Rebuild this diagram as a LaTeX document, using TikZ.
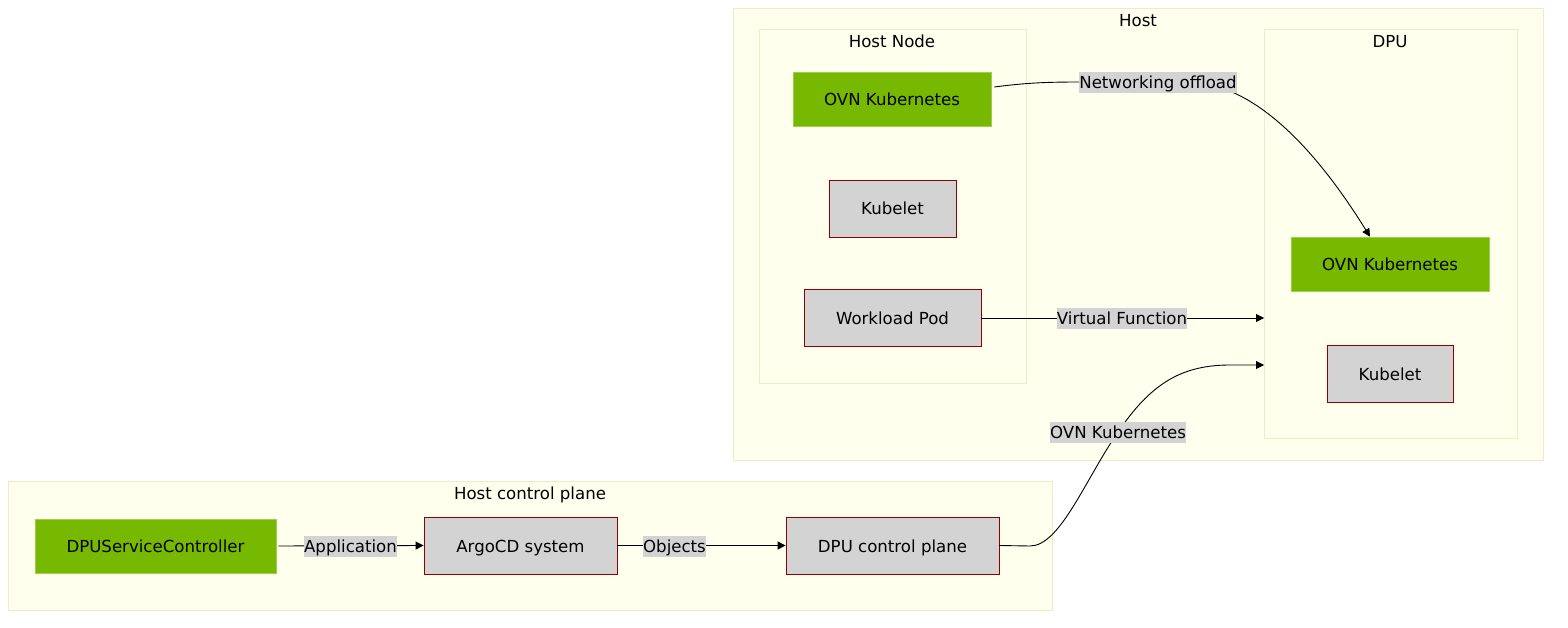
\documentclass[tikz,border=0pt]{standalone}
\usepackage{fontspec}
\setmainfont{DejaVu Sans}
\usetikzlibrary{arrows.meta}
\definecolor{clfill}{HTML}{FEFFEC}
\definecolor{clline}{HTML}{ECECC8}
\definecolor{nvgreen}{HTML}{76B900}
\definecolor{boxgray}{HTML}{D3D3D3}
\definecolor{boxred}{HTML}{8B0000}
\tikzset{
  fnt/.style={font=\fontsize{16.6}{20}\selectfont},
  cluster/.style={draw=clline, fill=clfill, line width=0.8pt},
  cltitle/.style={anchor=center, fnt, inner sep=0pt, text height=13.5pt, text depth=0.5pt},
  greenbox/.style={fill=nvgreen, draw=nvgreen!70!white, line width=0.6pt, minimum width=#1, minimum height=54pt, inner sep=0pt, fnt, text height=13.5pt, text depth=0.5pt},
  graybox/.style={fill=boxgray, draw=boxred, line width=0.8pt, minimum width=#1, minimum height=57pt, inner sep=0pt, fnt, text height=13.5pt, text depth=0.5pt},
  elabel/.style={fill=boxgray, inner xsep=0pt, inner ysep=0pt, fnt, text height=17pt, text depth=4pt},
  conn/.style={draw=black, line width=0.9pt},
  arr/.style={conn, -{Triangle[length=8pt,width=8pt]}}
}
\begin{document}
\begin{tikzpicture}[x=1pt,y=-1pt]
\useasboundingbox (0,0) rectangle (1568,628);
% clusters
\draw[cluster] (733,8) rectangle (1543,460);
\node[cltitle] (hostT) at (1138,20) {Host};
\draw[cluster] (759,29) rectangle (1026,383);
\node[cltitle] (hnT) at (892,41) {Host Node};
\draw[cluster] (1264,29) rectangle (1517,438);
\node[cltitle] (dpuT) at (1390,41) {DPU};
\draw[cluster] (8,481) rectangle (1052,610);
\node[cltitle] (hcpT) at (530,493) {Host control plane};
% nodes
\node[greenbox=198pt] (ovnA) at (892,99) {OVN Kubernetes};
\node[graybox=127pt] (kubA) at (892.5,208.5) {Kubelet};
\node[graybox=177pt] (wp) at (892.5,318) {Workload Pod};
\node[greenbox=198pt] (ovnB) at (1390,264) {OVN Kubernetes};
\node[graybox=126pt] (kubB) at (1390,373.5) {Kubelet};
\node[greenbox=241pt] (dsc) at (155.5,546) {DPUServiceController};
\node[graybox=193pt] (argo) at (520.5,545.5) {ArgoCD system};
\node[graybox=213pt] (dcp) at (892.5,545.5) {DPU control plane};
% free ends on the DPU cluster border
\coordinate (dpuVF) at (1264,318);
\coordinate (dpuCP) at (1264,365);
% connectors
\draw[arr] ([xshift=3pt,yshift=12pt]ovnA.east) .. controls (1025,83) and (1045,82) .. (1080,82) -- (1190,82)
  .. controls (1250,84) and (1310,140) .. (ovnB.north -| 1370,0);
\draw[arr] (wp.east) -- (dpuVF);
\draw[arr] (dcp.east) -- (1030,546) .. controls (1060,546) and (1085,480) .. (1118,432)
  .. controls (1150,385) and (1180,365) .. (1230,365) -- (dpuCP);
\draw[arr] ([xshift=2pt]dsc.east) -- (argo.west);
\draw[arr] (argo.east) -- (dcp.west);
% edge labels
\node[elabel] (l1) at (1158,82.5) {Networking offload};
\node[elabel] (l2) at (1122,318) {Virtual Function};
\node[elabel] (l3) at (1118,432) {OVN Kubernetes};
\node[elabel] (l4) at (350.5,546) {Application};
\node[elabel] (l5) at (674.5,546) {Objects};
\end{tikzpicture}
\end{document}
